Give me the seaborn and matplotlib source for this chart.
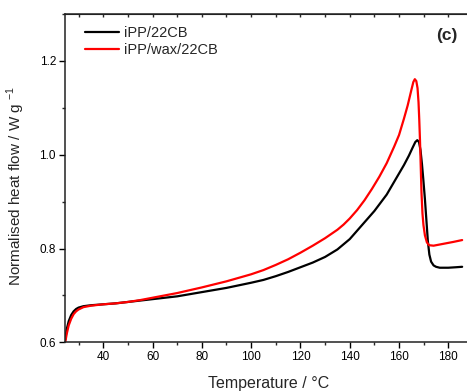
import numpy as np
import pandas as pd
import matplotlib
matplotlib.use("Agg")
import matplotlib.pyplot as plt
import seaborn as sns
from matplotlib.ticker import MultipleLocator

# ---- data ----
series_names = ["iPP/22CB", "iPP/wax/22CB"]

temp_black = [24.6, 25.2, 26, 27, 28, 29, 30, 32, 35, 40, 45, 50, 55, 60, 70, 80, 90,
              100, 105, 110, 115, 120, 125, 130, 135, 140, 145, 150, 155, 158, 160, 162,
              164, 165.5, 166.6, 167.4, 168.1, 168.7, 169.3, 169.8, 170.5, 171.1, 171.7,
              172.3, 173, 174, 175, 176.5, 178, 180, 183, 185.6]
flow_black = [0.605, 0.628, 0.645, 0.658, 0.666, 0.671, 0.674, 0.677, 0.679, 0.681, 0.683,
              0.686, 0.689, 0.692, 0.698, 0.707, 0.716, 0.727, 0.733, 0.741, 0.750, 0.760,
              0.770, 0.782, 0.798, 0.820, 0.850, 0.880, 0.915, 0.942, 0.960, 0.978, 0.998,
              1.015, 1.027, 1.031, 1.027, 1.010, 0.980, 0.950, 0.905, 0.860, 0.815, 0.787,
              0.772, 0.764, 0.761, 0.759, 0.759, 0.759, 0.760, 0.761]

temp_red = [24.6, 25.2, 26, 27, 28, 29, 30, 32, 35, 40, 45, 50, 55, 60, 70, 80, 90, 100,
            105, 110, 115, 120, 125, 130, 135, 137.5, 140, 143, 146, 149, 152, 155, 158,
            160, 162, 163.5, 165, 165.8, 166.4, 167, 167.5, 167.9, 168.2, 168.5, 168.8,
            169.1, 169.5, 169.9, 170.5, 171.3, 172.2, 174, 176, 179, 182, 185.6]
flow_red = [0.600, 0.618, 0.636, 0.650, 0.660, 0.666, 0.670, 0.675, 0.678, 0.681, 0.683,
            0.686, 0.690, 0.695, 0.705, 0.717, 0.730, 0.745, 0.754, 0.765, 0.777, 0.791,
            0.806, 0.822, 0.840, 0.851, 0.864, 0.882, 0.903, 0.927, 0.953, 0.982, 1.017,
            1.042, 1.077, 1.105, 1.138, 1.155, 1.161, 1.157, 1.142, 1.112, 1.075, 1.030,
            0.975, 0.920, 0.875, 0.850, 0.828, 0.813, 0.807, 0.806, 0.808, 0.811, 0.814,
            0.818]

x_ticks = [40, 60, 80, 100, 120, 140, 160, 180]
y_ticks = [0.6, 0.8, 1.0, 1.2]

df = pd.concat([
    pd.DataFrame({"T": temp_black, "flow": flow_black, "sample": series_names[0]}),
    pd.DataFrame({"T": temp_red, "flow": flow_red, "sample": series_names[1]}),
], ignore_index=True)

sns.set_style("ticks")
plt.rcParams["font.family"] = ["Liberation Sans", "DejaVu Sans"]
plt.rcParams["mathtext.fontset"] = "custom"
plt.rcParams["mathtext.rm"] = "Liberation Sans"

fig = plt.figure(figsize=(4.67, 3.92), dpi=100)
ax = fig.add_axes([65 / 467, 49.7 / 392, 408 / 467, 328.3 / 392])

sns.lineplot(data=df, x="T", y="flow", hue="sample", sort=False,
             palette={series_names[0]: "#000000", series_names[1]: "#ff0000"},
             linewidth=1.6, ax=ax, legend=True)

ax.set_xlim(24.5, 190)
ax.set_ylim(0.6, 1.3)
ax.set_xticks(x_ticks)
ax.set_yticks(y_ticks)
ax.set_yticklabels([f"{v:.1f}" for v in y_ticks])
ax.xaxis.set_minor_locator(MultipleLocator(10))
ax.yaxis.set_minor_locator(MultipleLocator(0.1))
ax.tick_params(axis="both", which="major", direction="out", length=4.5, width=1,
               labelsize=8.5, colors="#000000", pad=2)
ax.tick_params(axis="both", which="minor", direction="out", length=2.5, width=1)
for s in ["left", "bottom", "top"]:
    ax.spines[s].set_linewidth(1.1)
    ax.spines[s].set_color("#222222")
ax.spines["right"].set_visible(False)

top = ax.secondary_xaxis("top")
top.set_xticks(np.arange(30, 190, 10))
top.tick_params(direction="in", length=2.5, width=1, labeltop=False)
top.set_xticklabels([])

ax.set_xlabel("Temperature / \u00b0C", fontsize=11.5)
ax.xaxis.set_label_coords(0.5, -0.104)
ax.set_ylabel("Normalised heat flow / W g $^{-1}$", fontsize=11)
ax.yaxis.set_label_coords(-0.093, 0.476)

ax.text(0.936, 0.936, "(c)", transform=ax.transAxes, fontsize=12.5, fontweight="bold",
        ha="center", va="center")

leg = ax.legend(loc="upper left", frameon=False, fontsize=10.5, handlelength=2.3,
                handletextpad=0.35, labelspacing=0.2, borderaxespad=0, borderpad=0,
                bbox_to_anchor=(0.049, 0.964))

fig.savefig("out.png", dpi=100)
